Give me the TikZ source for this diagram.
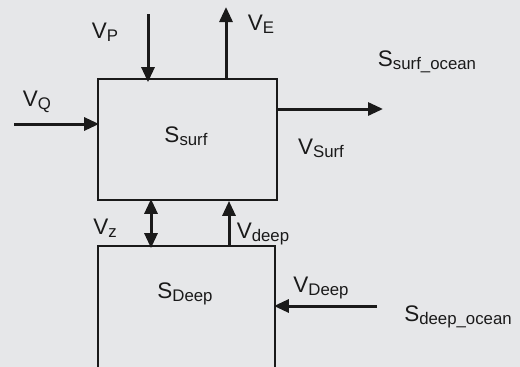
\documentclass[tikz,border=0pt]{standalone}
\usepackage{fontspec}
\setmainfont{Liberation Sans}
\usetikzlibrary{arrows.meta}
\definecolor{bg}{HTML}{E6E7E9}
\definecolor{ink}{HTML}{1A1A1A}
\newcommand{\lbl}[2]{\fontsize{22.5}{24}\selectfont #1\raisebox{-3pt}{\fontsize{16.8}{18}\selectfont #2}}
\begin{document}
\begin{tikzpicture}[x=1pt,y=-1pt,
  box/.style={draw=ink,line width=1.8pt,rectangle,inner sep=0pt},
  arr/.style={draw=ink,line width=3pt,-{Triangle[length=15pt,width=13pt]}},
  darr/.style={draw=ink,line width=3pt,{Triangle[length=15pt,width=13pt]}-{Triangle[length=15pt,width=13pt]}},
  txt/.style={inner sep=0pt,text=ink,anchor=center}]
\fill[bg] (0,0) rectangle (520,367);
\useasboundingbox (0,0) rectangle (520,367);
\clip (0,0) rectangle (520,367);
% boxes
\node[box,minimum width=179pt,minimum height=121pt] (surf) at (187.5,139.5) {};
\node[box,minimum width=177pt,minimum height=130pt] (deep) at (186.5,311) {};
% free ends
\coordinate (pend) at (148,14);
\coordinate (eend) at (226,7);
\coordinate (qend) at (14,124);
\coordinate (send) at (383,109);
\coordinate (dend) at (377,306);
\coordinate (zx) at (151,0);
\coordinate (vx) at (229,0);
% arrows
\draw[arr] (pend) -- ([yshift=-4pt]pend |- surf.north);
\draw[arr] (eend |- surf.north) -- (eend);
\draw[arr] (qend) -- ([xshift=2pt]qend -| surf.west);
\draw[arr] (send -| surf.east) -- (send);
\draw[darr] ([yshift=2pt]zx |- surf.south) -- ([yshift=-3pt]zx |- deep.north);
\draw[arr] (vx |- deep.north) -- (vx |- surf.south);
\draw[arr] (dend) -- ([xshift=-2pt]dend -| deep.east);
% labels
\node[txt] (lp) at (105,32) {\lbl{V}{P}};
\node[txt] (le) at (261,24) {\lbl{V}{E}};
\node[txt] (lq) at (37,102) {\lbl{V}{Q}};
\node[txt] (ls) at (186,136) {\lbl{S}{surf}};
\node[txt] (lso) at (427,62) {\lbl{S}{surf\_ocean}};
\node[txt] (lvs) at (321,148) {\lbl{V}{Surf}};
\node[txt] (lz) at (105,228) {\lbl{V}{z}};
\node[txt] (ldp) at (263,234) {\lbl{V}{deep}};
\node[txt] (lsd) at (185,294) {\lbl{S}{Deep}};
\node[txt] (lvd) at (321,288) {\lbl{V}{Deep}};
\node[txt] (lsdo) at (458,317) {\lbl{S}{deep\_ocean}};
\end{tikzpicture}
\end{document}
